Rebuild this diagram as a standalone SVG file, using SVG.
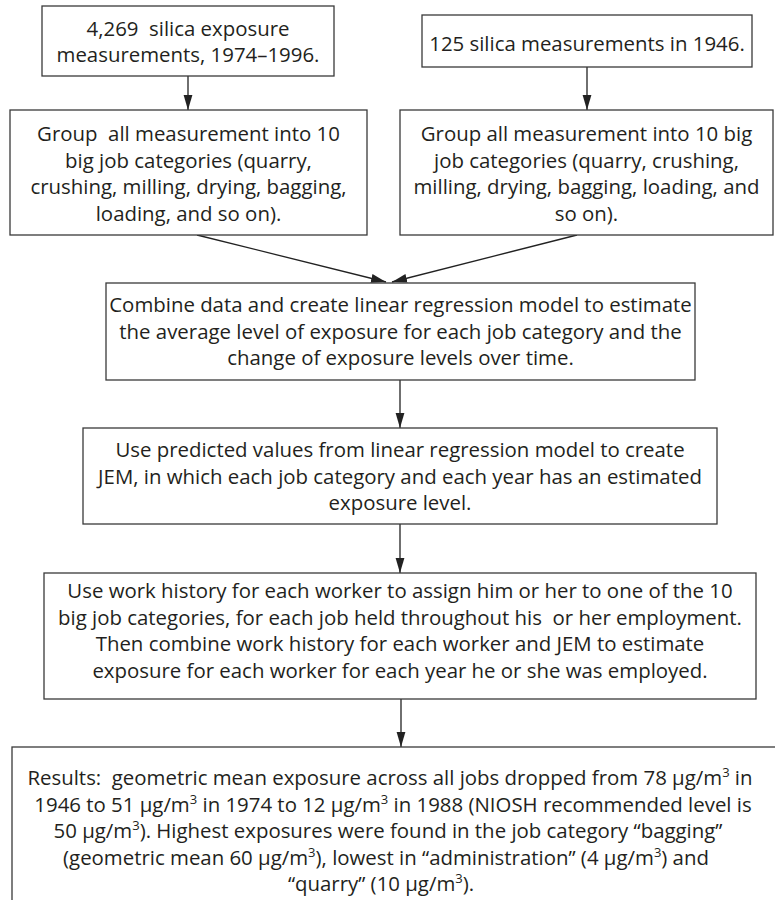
<svg xmlns="http://www.w3.org/2000/svg" width="775" height="900" viewBox="0 0 775 900">
<style>
  .box { fill: #ffffff; stroke: #3a3a3a; stroke-width: 1.3; }
  .t { font-family: "Open Sans", "Noto Sans", "Liberation Sans", sans-serif; font-size: 20.4px; fill: #231f20; text-anchor: middle; white-space: pre; }
  .sup { font-size: 13px; }
  .edge { fill: none; stroke: #222222; stroke-width: 1.3; }
</style>
<defs>
  <marker id="ah" markerWidth="15" markerHeight="10" refX="15" refY="5" orient="auto" markerUnits="userSpaceOnUse">
    <path d="M0,0.6 L15,5 L0,9.4 z" fill="#222222"/>
  </marker>
</defs>
<rect x="0" y="0" width="775" height="900" fill="#ffffff"/>

<g id="connectors">
  <line class="edge" x1="188" y1="76" x2="188" y2="110" marker-end="url(#ah)"/>
  <line class="edge" x1="587" y1="67" x2="587" y2="110" marker-end="url(#ah)"/>
  <line class="edge" x1="197" y1="235" x2="386" y2="282" marker-end="url(#ah)"/>
  <line class="edge" x1="577" y1="235" x2="392" y2="282" marker-end="url(#ah)"/>
  <line class="edge" x1="400" y1="380" x2="400" y2="428" marker-end="url(#ah)"/>
  <line class="edge" x1="400" y1="524" x2="400" y2="573" marker-end="url(#ah)"/>
  <line class="edge" x1="401" y1="699" x2="401" y2="747" marker-end="url(#ah)"/>
</g>

<g id="n1">
  <rect class="box" x="42" y="6" width="292" height="70"/>
  <text class="t" x="188" y="36" xml:space="preserve">4,269  silica exposure</text>
  <text class="t" x="188" y="62">measurements, 1974–1996.</text>
</g>

<g id="n2">
  <rect class="box" x="422" y="15" width="330" height="52"/>
  <text class="t" x="587" y="51">125 silica measurements in 1946.</text>
</g>

<g id="n3">
  <rect class="box" x="10" y="110" width="357" height="125"/>
  <text class="t" x="188.5" y="141" xml:space="preserve">Group  all measurement into 10</text>
  <text class="t" x="188.5" y="167.5">big job categories (quarry,</text>
  <text class="t" x="188.5" y="194">crushing, milling, drying, bagging,</text>
  <text class="t" x="188.5" y="220.5">loading, and so on).</text>
</g>

<g id="n4">
  <rect class="box" x="400" y="110" width="373" height="125"/>
  <text class="t" x="586.5" y="141">Group all measurement into 10 big</text>
  <text class="t" x="586.5" y="167.5">job categories (quarry, crushing,</text>
  <text class="t" x="586.5" y="194">milling, drying, bagging, loading, and</text>
  <text class="t" x="586.5" y="220.5">so on).</text>
</g>

<g id="n5">
  <rect class="box" x="106" y="283" width="589" height="97"/>
  <text class="t" x="400.5" y="312">Combine data and create linear regression model to estimate</text>
  <text class="t" x="400.5" y="338.5">the average level of exposure for each job category and the</text>
  <text class="t" x="400.5" y="365">change of exposure levels over time.</text>
</g>

<g id="n6">
  <rect class="box" x="83" y="428" width="634" height="96"/>
  <text class="t" x="400" y="457">Use predicted values from linear regression model to create</text>
  <text class="t" x="400" y="483.5">JEM, in which each job category and each year has an estimated</text>
  <text class="t" x="400" y="510">exposure level.</text>
</g>

<g id="n7">
  <rect class="box" x="44" y="573" width="712" height="126"/>
  <text class="t" x="400" y="598">Use work history for each worker to assign him or her to one of the 10</text>
  <text class="t" x="400" y="624.5" xml:space="preserve">big job categories, for each job held throughout his  or her employment.</text>
  <text class="t" x="400" y="651">Then combine work history for each worker and JEM to estimate</text>
  <text class="t" x="400" y="677.5">exposure for each worker for each year he or she was employed.</text>
</g>

<g id="n8">
  <rect class="box" x="12" y="747" width="800" height="200"/>
  <text class="t" x="390" y="785" xml:space="preserve">Results:  geometric mean exposure across all jobs dropped from 78 μg/m<tspan class="sup" dy="-8">3</tspan><tspan dy="8"> in</tspan></text>
  <text class="t" x="393" y="811.5" xml:space="preserve">1946 to 51 μg/m<tspan class="sup" dy="-8">3</tspan><tspan dy="8"> in 1974 to 12 μg/m</tspan><tspan class="sup" dy="-8">3</tspan><tspan dy="8"> in 1988 (NIOSH recommended level is</tspan></text>
  <text class="t" x="388" y="838" xml:space="preserve">50 μg/m<tspan class="sup" dy="-8">3</tspan><tspan dy="8">). Highest exposures were found in the job category “bagging”</tspan></text>
  <text class="t" x="386" y="864.5" xml:space="preserve">(geometric mean 60 μg/m<tspan class="sup" dy="-8">3</tspan><tspan dy="8">), lowest in “administration” (4 μg/m</tspan><tspan class="sup" dy="-8">3</tspan><tspan dy="8">) and</tspan></text>
  <text class="t" x="381" y="891" xml:space="preserve">“quarry” (10 μg/m<tspan class="sup" dy="-8">3</tspan><tspan dy="8">).</tspan></text>
</g>
</svg>
